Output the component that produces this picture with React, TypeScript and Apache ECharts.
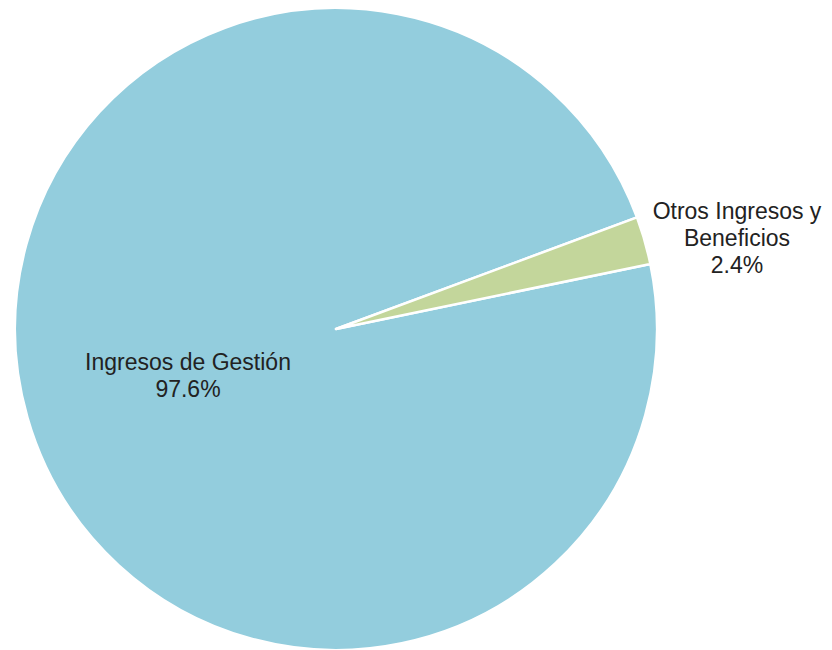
import React, { useEffect, useRef } from "react";
import * as echarts from "echarts";

const categories = ["Ingresos de Gestión", "Otros Ingresos y\nBeneficios"];
const values = [97.6, 2.4];
const colors = ["#93CDDD", "#C3D69B"];

export default function App() {
  const ref = useRef<HTMLDivElement>(null);
  useEffect(() => {
    if (!ref.current) return;
    const chart = echarts.init(ref.current, undefined, { renderer: "svg" });
    chart.setOption({
      animation: false,
      backgroundColor: "#ffffff",
      series: [
        {
          type: "pie",
          center: [336, 329],
          radius: [0, 321],
          startAngle: 11.7,
          clockwise: true,
          data: categories.map((c, i) => ({
            name: c,
            value: values[i],
            itemStyle: { color: colors[i] },
            label: i === 0 ? { position: "inside" } : { position: "outside" },
            labelLine: { show: false },
          })),
          itemStyle: { borderColor: "#ffffff", borderWidth: 2.5 },
          label: {
            formatter: (p: any) => `${p.name}\n${p.value.toFixed(1)}%`,
            fontFamily: "Liberation Sans, Arial, sans-serif",
            fontSize: 23,
            lineHeight: 27,
            color: "#222222",
            align: "center",
            overflow: "none",
          },
          labelLayout: (p: any) =>
            p.dataIndex === 1
              ? { x: 737, y: 238, align: "center", verticalAlign: "middle" }
              : { x: 188, y: 375, align: "center", verticalAlign: "middle" },
          labelLine: { show: false },
        },
      ],
    });
    return () => chart.dispose();
  }, []);
  return <div ref={ref} style={{ width: 832, height: 650, position: "absolute", left: 0, top: 0 }} />;
}
